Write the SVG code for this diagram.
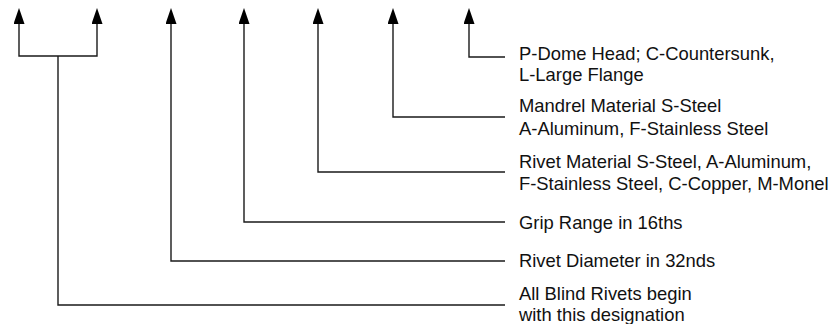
<svg xmlns="http://www.w3.org/2000/svg" width="837" height="324" viewBox="0 0 837 324">
<style>
.c{fill:none;stroke:#1a1a1a;stroke-width:1.4;marker-end:url(#ah)}
.p{fill:none;stroke:#1a1a1a;stroke-width:1.4}
text{font-family:"Liberation Sans",Arial,Helvetica,sans-serif;font-size:18.4px;fill:#111}
</style>
<defs>
<marker id="ah" viewBox="0 0 16 11" markerWidth="16" markerHeight="11" markerUnits="userSpaceOnUse" refX="0" refY="5.5" orient="auto">
<path d="M0,0 L16,5.5 L0,11 z" fill="#000"/>
</marker>
</defs>
<g id="connectors">
<path class="p" d="M505,305 H58 V56"/>
<path class="c" d="M58,56 H19 V24"/>
<path class="c" d="M58,56 H97 V24"/>
<path class="c" d="M505,261 H171 V24"/>
<path class="c" d="M505,222 H244 V24"/>
<path class="c" d="M505,172 H318 V24"/>
<path class="c" d="M505,117 H393 V24"/>
<path class="c" d="M505,57 H469 V24"/>
</g>
<g id="head-style">
<text x="519" y="60">P-Dome Head; C-Countersunk,</text>
<text x="519" y="81">L-Large Flange</text>
</g>
<g id="mandrel-material">
<text x="519" y="112">Mandrel Material S-Steel</text>
<text x="519" y="135">A-Aluminum, F-Stainless Steel</text>
</g>
<g id="rivet-material">
<text x="519" y="168">Rivet Material S-Steel, A-Aluminum,</text>
<text x="519" y="190">F-Stainless Steel, C-Copper, M-Monel</text>
</g>
<g id="grip-range">
<text x="519" y="229">Grip Range in 16ths</text>
</g>
<g id="rivet-diameter">
<text x="519" y="267">Rivet Diameter in 32nds</text>
</g>
<g id="blind-rivets">
<text x="519" y="300">All Blind Rivets begin</text>
<text x="519" y="321">with this designation</text>
</g>
</svg>
